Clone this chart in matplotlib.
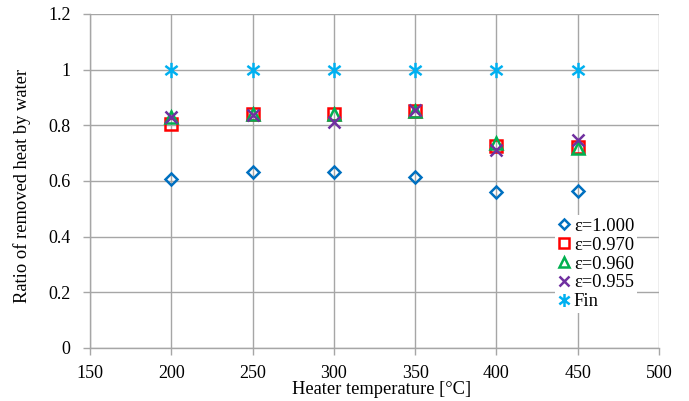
import matplotlib
matplotlib.use("Agg")
import matplotlib.pyplot as plt
from matplotlib.path import Path

temps = [200, 250, 300, 350, 400, 450]
eps_1000 = [0.607, 0.631, 0.634, 0.613, 0.559, 0.564]
eps_0970 = [0.806, 0.842, 0.841, 0.852, 0.727, 0.722]
eps_0960 = [0.829, 0.841, 0.840, 0.850, 0.735, 0.720]
eps_0955 = [0.830, 0.838, 0.812, 0.854, 0.711, 0.746]
fin = [1.0, 1.0, 1.0, 1.0, 1.0, 1.0]

labels = ["ε=1.000", "ε=0.970", "ε=0.960", "ε=0.955", "Fin"]
xticks = [150, 200, 250, 300, 350, 400, 450, 500]
yticks = [0, 0.2, 0.4, 0.6, 0.8, 1.0, 1.2]
ytick_labels = ["0", "0.2", "0.4", "0.6", "0.8", "1", "1.2"]

plt.rcParams['font.family'] = ['Liberation Serif', 'DejaVu Serif']

fig = plt.figure(figsize=(6.89, 4.01), dpi=100)
ax = fig.add_axes([90/689, 1 - 348/401, 569/689, 334/401])

star = Path([(0, -1), (0, 1), (-0.8, -0.6), (0.8, 0.6), (-0.8, 0.6), (0.8, -0.6)],
            [Path.MOVETO, Path.LINETO, Path.MOVETO, Path.LINETO, Path.MOVETO, Path.LINETO])

series = [
    (eps_1000, 'D', '#0070C0', 6.5),
    (eps_0970, 's', '#FF0000', 9),
    (eps_0960, '^', '#00B050', 9),
    (eps_0955, 'x', '#7030A0', 9),
    (fin, star, '#00B0F0', 11),
]
for (vals, m, c, ms), lab in zip(series, labels):
    ax.plot(temps, vals, linestyle='none', marker=m, markersize=ms,
            markerfacecolor='none', markeredgecolor=c, markeredgewidth=1.8,
            label=lab, zorder=3)

ax.set_xlim(150, 500)
ax.set_ylim(0, 1.2)
ax.set_xticks(xticks)
ax.set_yticks(yticks)
ax.set_yticklabels(ytick_labels)
ax.grid(True, color='#a6a6a6', linewidth=1.0)
ax.set_axisbelow(True)
for s in ['top', 'right']:
    ax.spines[s].set_visible(False)
for s in ['left', 'bottom']:
    ax.spines[s].set_color('#a6a6a6')
    ax.spines[s].set_linewidth(1.0)
ax.tick_params(axis='both', colors='#a6a6a6', labelcolor='black', labelsize=13,
               length=5, width=1.0, direction='out')
ax.tick_params(axis='x', pad=7)
ax.tick_params(axis='y', pad=9)
ax.set_xlabel("Heater temperature [°C]", fontsize=13.3)
ax.xaxis.set_label_coords((382 - 90) / 569, -(389 - 348) / 334)
ax.xaxis.label.set_va('center')
ax.set_ylabel("Ratio of removed heat by water", fontsize=13.3)
ax.yaxis.set_label_coords(-(90 - 22) / 569, (348 - 186) / 334)
ax.yaxis.label.set_va('center')

leg = ax.legend(loc='upper left', bbox_to_anchor=(0.818, 0.398), frameon=True,
                fontsize=13.3, handlelength=0.6, handletextpad=0.25,
                labelspacing=0.1, borderpad=0.15, borderaxespad=0, markerscale=0.85)
leg.get_frame().set_edgecolor('none')
leg.get_frame().set_facecolor('white')
leg.get_frame().set_alpha(1)
leg.get_frame().set_boxstyle('square', pad=0)

fig.savefig("out.png", dpi=100)
